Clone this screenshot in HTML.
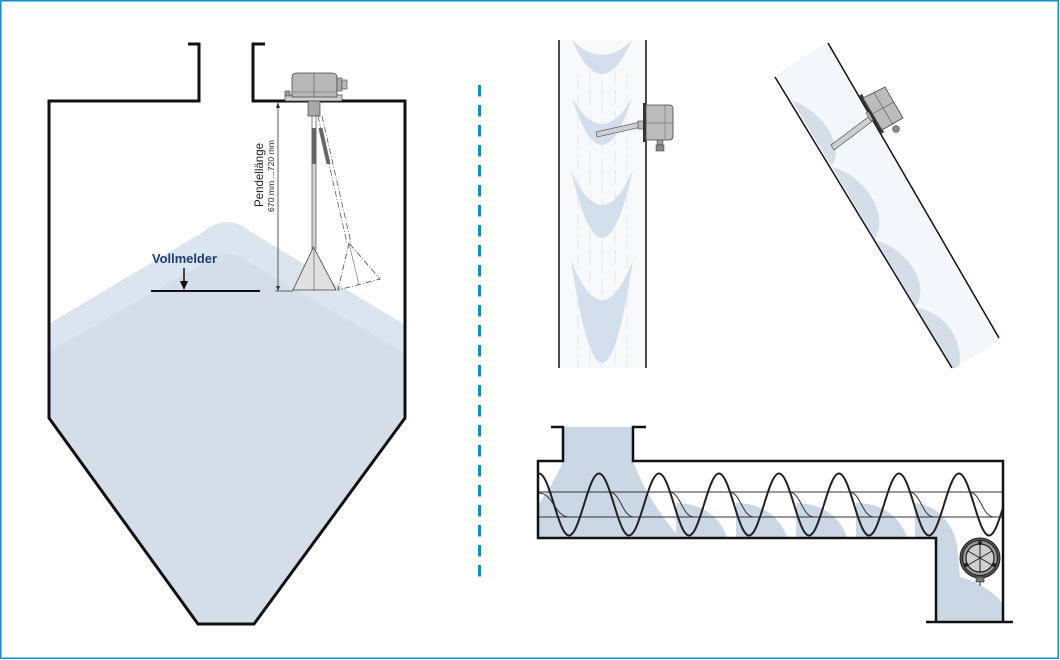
<!DOCTYPE html>
<html><head><meta charset="utf-8"><style>
html,body{margin:0;padding:0;background:#fff;}
svg{display:block;}
text{font-family:"Liberation Sans",sans-serif;}
</style></head><body>
<svg width="1060" height="660" viewBox="0 0 1060 660" xmlns="http://www.w3.org/2000/svg">
<defs>
<clipPath id="silo"><polygon points="49,101 405,101 405,418 254,624 198,624 49,418"/></clipPath>
<clipPath id="trough"><rect x="538" y="461" width="465" height="77"/></clipPath>
<clipPath id="vpipe"><rect x="559" y="40" width="87" height="328"/></clipPath>
<clipPath id="dpipe"><polygon points="776,74 828,42 1001,340 953,369"/></clipPath>
</defs>
<rect width="1060" height="660" fill="#fff"/>
<rect x="0.75" y="0.75" width="1057.5" height="657.5" fill="none" stroke="#0b8fd3" stroke-width="1.5"/>

<!-- divider -->
<line x1="479.5" y1="85" x2="479.5" y2="578" stroke="#0b8fd3" stroke-width="3" stroke-dasharray="11.5 8.5"/>

<!-- ============ SILO ============ -->
<g clip-path="url(#silo)">
<path d="M30,335 L203,232 Q227,212 251,232 L430,340 V640 H30 Z" fill="#dbe5f0"/>
<path d="M30,363 L203,264 Q227,244 251,264 L430,368 V640 H30 Z" fill="#d3dee9"/>
</g>
<path d="M188,44 H199 V101 H49 V418 L198,624 H254 L405,418 V101 H253 V44 H265" fill="none" stroke="#111" stroke-width="3" stroke-linejoin="miter"/>

<!-- Vollmelder -->
<text x="152" y="263" font-size="13" font-weight="bold" fill="#1f3c6e" textLength="65" lengthAdjust="spacingAndGlyphs">Vollmelder</text>
<line x1="184" y1="268" x2="184" y2="283" stroke="#111" stroke-width="1.5"/>
<polygon points="180,281 188,281 184,290" fill="#111"/>
<line x1="151" y1="291" x2="260" y2="291" stroke="#111" stroke-width="2"/>

<!-- dimension -->
<line x1="278" y1="104" x2="278" y2="289" stroke="#333" stroke-width="0.8"/>
<polygon points="276,108 280,108 278,102" fill="#333"/>
<polygon points="276,286 280,286 278,291" fill="#333"/>
<line x1="275" y1="291" x2="293" y2="291" stroke="#333" stroke-width="0.8"/>
<text transform="translate(263,175) rotate(-90)" font-size="12" fill="#222" text-anchor="middle" textLength="64" lengthAdjust="spacingAndGlyphs">Pendellänge</text>
<text transform="translate(274,176) rotate(-90)" font-size="8.5" fill="#222" text-anchor="middle" textLength="72" lengthAdjust="spacingAndGlyphs">670 mm ...720 mm</text>

<!-- silo sensor -->
<rect x="285" y="95" width="57" height="6" fill="#cfcfcf" stroke="#444" stroke-width="0.7"/>
<rect x="285" y="91" width="5" height="5" fill="#999" stroke="#444" stroke-width="0.6"/>
<path d="M292,97 V78 Q292,73 297,73 H332 Q337,73 337,78 V97 Z" fill="#b8b8b8" stroke="#444" stroke-width="0.8"/>
<line x1="314" y1="73" x2="314" y2="97" stroke="#555" stroke-width="0.6"/>
<line x1="293" y1="92" x2="336" y2="92" stroke="#666" stroke-width="0.5"/>
<rect x="337" y="78" width="5" height="13" fill="#aaa" stroke="#444" stroke-width="0.6"/>
<rect x="342" y="80" width="5" height="9" fill="#bbb" stroke="#444" stroke-width="0.6"/>
<rect x="308" y="101" width="12" height="15" fill="#a8a8a8" stroke="#444" stroke-width="0.7"/>
<!-- rod 1 -->
<line x1="312" y1="116" x2="312" y2="250" stroke="#444" stroke-width="0.7"/>
<line x1="316" y1="116" x2="316" y2="250" stroke="#444" stroke-width="0.7"/>
<rect x="311.5" y="128" width="5" height="36" fill="#666"/>
<rect x="312.5" y="164" width="3" height="84" fill="#d0d0d0"/>
<polygon points="313.5,247 293,290 336,290" fill="#e0e0e0" stroke="#444" stroke-width="0.8"/>
<line x1="314" y1="248" x2="314" y2="290" stroke="#555" stroke-width="0.6"/>
<!-- rod 2 dashed -->
<line x1="318" y1="116" x2="347" y2="243" stroke="#444" stroke-width="0.7" stroke-dasharray="6 2 1 2"/>
<line x1="322" y1="116" x2="351" y2="243" stroke="#444" stroke-width="0.7" stroke-dasharray="6 2 1 2"/>
<polygon points="318.5,128 322.5,128 330.5,164 326.5,164" fill="#666"/>
<polygon points="349,243 338,290 380,279" fill="none" stroke="#444" stroke-width="0.8" stroke-dasharray="6 2 1 2"/>
<line x1="349" y1="243" x2="359" y2="285" stroke="#666" stroke-width="0.6"/>

<!-- ============ VERTICAL PIPE ============ -->
<rect x="559" y="40" width="87" height="328" fill="#f7f9fb"/>
<g clip-path="url(#vpipe)">
<g stroke="#e6ecf2" stroke-width="1.2" stroke-dasharray="14 6">
<line x1="578" y1="75" x2="578" y2="368"/>
<line x1="590" y1="70" x2="590" y2="368"/>
<line x1="602" y1="80" x2="602" y2="368"/>
<line x1="615" y1="70" x2="615" y2="368"/>
<line x1="627" y1="75" x2="627" y2="368"/>
</g>
<g fill="#d3dfec">
<path d="M572,40 Q602,108 632,40 Q602,70 572,40 Z"/>
<path d="M572,98 Q602,192 632,98 Q602,150 572,98 Z"/>
<path d="M571,170 Q602,306 633,170 Q602,240 571,170 Z"/>
<path d="M571,260 Q602,466 633,260 Q602,340 571,260 Z"/>
</g>
</g>
<line x1="559" y1="40" x2="559" y2="368" stroke="#111" stroke-width="1.5"/>
<line x1="646" y1="40" x2="646" y2="368" stroke="#111" stroke-width="1.5"/>
<!-- sensor -->
<polygon points="638,122.5 639,127.5 597,137 596,132" fill="#cfcfcf" stroke="#444" stroke-width="0.6"/>
<rect x="638" y="121" width="7" height="8" fill="#bbb" stroke="#444" stroke-width="0.6"/>
<rect x="643" y="103" width="3.5" height="39" fill="#333"/>
<path d="M646,105 H669 Q673,105 673,109 V136 Q673,140 669,140 H646 Z" fill="#bcbcbc" stroke="#444" stroke-width="0.8"/>
<line x1="646" y1="123" x2="673" y2="123" stroke="#555" stroke-width="0.6"/>
<line x1="665" y1="105" x2="665" y2="140" stroke="#666" stroke-width="0.5"/>
<rect x="657" y="140" width="6" height="5" fill="#999" stroke="#444" stroke-width="0.5"/>
<rect x="656" y="145" width="8" height="6" fill="#888" stroke="#333" stroke-width="0.5"/>

<!-- ============ DIAGONAL PIPE ============ -->
<polygon points="776,74 828,42 1001,340 953,369" fill="#f4f7fb"/>
<g clip-path="url(#dpipe)" fill="#d3dee9">
<path d="M789,100 C822,108 848,150 830,167 Z"/>
<path d="M830,167 C862,172 892,215 874,240 Z"/>
<path d="M874,240 C906,247 932,285 915,307 Z"/>
<path d="M915,307 C946,312 968,345 957,372 L953,372 Z"/>
</g>
<line x1="775" y1="77" x2="952" y2="368" stroke="#111" stroke-width="1.5"/>
<line x1="828" y1="43" x2="999" y2="338" stroke="#111" stroke-width="1.5"/>
<!-- sensor -->
<polygon points="871,115 874,120 834,150 831,145" fill="#cfcfcf" stroke="#444" stroke-width="0.6"/>
<polygon points="866,113 873,109 878,117 871,121" fill="#bbb" stroke="#444" stroke-width="0.6"/>
<polygon points="859,96 862,94 884,132 881,134" fill="#333"/>
<polygon points="863,98 885,87 903,118 882,130" fill="#bcbcbc" stroke="#444" stroke-width="0.8"/>
<line x1="874" y1="92.5" x2="892.5" y2="124" stroke="#555" stroke-width="0.6"/>
<line x1="872" y1="114" x2="894" y2="102" stroke="#555" stroke-width="0.6"/>
<circle cx="896" cy="129" r="3.5" fill="#888" stroke="#333" stroke-width="0.5"/>

<!-- ============ SCREW CONVEYOR ============ -->
<g fill="#cad7e4">
<path d="M563,427 H633 V461 C640,480 652,505 680,538 L538,538 L538,505 C548,490 558,475 563,461 Z"/>
<path d="M676,503 C705,503 722,520 727,538 L676,538 Z"/>
<path d="M736,503 C765,503 782,520 787,538 L736,538 Z"/>
<path d="M796,503 C825,503 842,520 847,538 L796,538 Z"/>
<path d="M856,503 C885,503 902,520 907,538 L856,538 Z"/>
<path d="M915,503 C935,505 952,520 957,545 L960,577 C980,582 998,595 1003,605 L1003,622 L936,622 L936,538 L915,538 Z"/>
</g>
<g clip-path="url(#trough)">
<line x1="538" y1="492" x2="1003" y2="492" stroke="#333" stroke-width="1"/>
<line x1="538" y1="517" x2="1003" y2="517" stroke="#333" stroke-width="1"/>
<path d="M539,493 C553,493 555,517 569,517 M609,492 C621,492 622,517 634,517 M669,492 C681,492 682,517 694,517 M729,492 C741,492 742,517 754,517 M789,492 C801,492 802,517 814,517 M849,492 C861,492 862,517 874,517 M909,492 C921,492 922,517 934,517 M969,492 C981,492 982,517 994,517" fill="none" stroke="#333" stroke-width="1"/>
<path d="M539,473.5 C549.9,473.5 558.1,535.5 569,535.5 S588.1,473.5 599,473.5 S618.1,535.5 629,535.5 S648.1,473.5 659,473.5 S678.1,535.5 689,535.5 S708.1,473.5 719,473.5 S738.1,535.5 749,535.5 S768.1,473.5 779,473.5 S798.1,535.5 809,535.5 S828.1,473.5 839,473.5 S858.1,535.5 869,535.5 S888.1,473.5 899,473.5 S918.1,535.5 929,535.5 S948.1,473.5 959,473.5 S978.1,535.5 989,535.5 S1008.1,473.5 1019,473.5" fill="none" stroke="#222" stroke-width="2"/>
</g>
<path d="M551,427 H563 V461 H538 V538 H936 V622" fill="none" stroke="#111" stroke-width="2.5"/>
<path d="M926,622 H1013" fill="none" stroke="#111" stroke-width="2.5"/>
<path d="M1003,622 V461 H633 V427 H646" fill="none" stroke="#111" stroke-width="2.5"/>
<!-- rotary sensor -->
<g>
<circle cx="980" cy="558" r="20" fill="#555" stroke="#222" stroke-width="1"/>
<circle cx="980" cy="558" r="17.5" fill="#999" stroke="#222" stroke-width="1"/>
<circle cx="980" cy="558" r="14" fill="#cfcfcf" stroke="#222" stroke-width="1.2"/>
<g stroke="#222" stroke-width="1">
<line x1="980" y1="544" x2="980" y2="572"/>
<line x1="968" y1="551" x2="992" y2="565"/>
<line x1="968" y1="565" x2="992" y2="551"/>
</g>
<circle cx="966" cy="565" r="2" fill="#222"/>
<circle cx="994" cy="565" r="2" fill="#222"/>
<circle cx="980" cy="543" r="2" fill="#222"/>
<rect x="976" y="577" width="8" height="5" fill="#777" stroke="#222" stroke-width="0.6"/>
<line x1="980" y1="582" x2="980" y2="586" stroke="#222" stroke-width="1"/>
</g>
</svg>
</body></html>
